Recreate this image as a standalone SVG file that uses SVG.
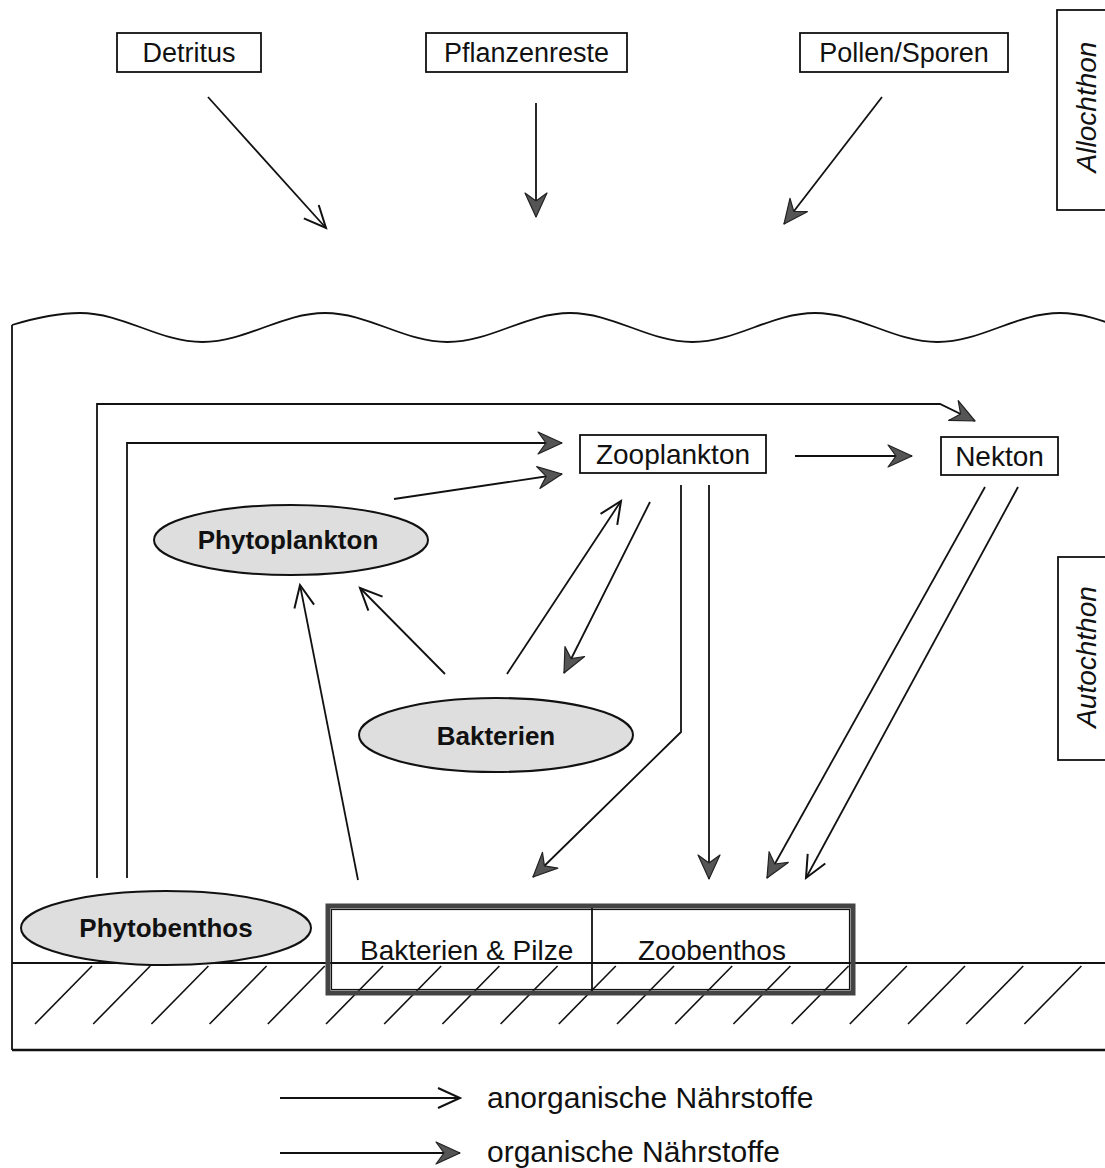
<svg xmlns="http://www.w3.org/2000/svg" width="1105" height="1168" viewBox="0 0 1105 1168">
<style>
.t{font-family:"Liberation Sans",Arial,sans-serif;fill:#111}
.box{fill:#fff;stroke:#111;stroke-width:1.8}
.ell{fill:#dedede;stroke:#111;stroke-width:2}
.ln{fill:none;stroke:#111;stroke-width:1.8}
.fr{fill:none;stroke:#111;stroke-width:1.8}
.inorg{marker-end:url(#open)}
.org{marker-end:url(#filled)}
</style>
<defs>
<marker id="open" viewBox="-26 -13 28 26" refX="0" refY="0" markerWidth="28" markerHeight="26" orient="auto" markerUnits="userSpaceOnUse" overflow="visible">
<path d="M-22,-10 L0,0 L-22,10" fill="none" stroke="#111" stroke-width="2"/>
</marker>
<marker id="filled" viewBox="-26 -13 28 26" refX="0" refY="0" markerWidth="28" markerHeight="26" orient="auto" markerUnits="userSpaceOnUse" overflow="visible">
<path d="M-24,-11 L0,0 L-24,11 L-16,0 Z" fill="#555" stroke="#222" stroke-width="1.2" stroke-linejoin="round"/>
</marker>
</defs>
<rect width="1105" height="1168" fill="#fff"/>

<g id="environment">
<path class="fr" d="M12,325 C35,318 57,313 80,313 C124,313 158.5,342 202.5,342 C246.5,342 281,313 325,313 C369,313 403.5,342 447.5,342 C491.5,342 526,313 570,313 C614,313 648.5,342 692.5,342 C736.5,342 771,313 815,313 C859,313 893.5,342 937.5,342 C981.5,342 1016,313 1060,313 C1104,313 1138.5,342 1182.5,342"/>
<path class="fr" d="M12,325 L12,1050"/>
<path d="M12,1050 L1105,1050" fill="none" stroke="#111" stroke-width="2.6"/>
<path class="fr" d="M12,963 L1105,963"/>
<g id="hatch" stroke="#111" stroke-width="1.6">
<line x1="35" y1="1024" x2="92" y2="966"/>
<line x1="93.2" y1="1024" x2="150.2" y2="966"/>
<line x1="151.4" y1="1024" x2="208.4" y2="966"/>
<line x1="209.6" y1="1024" x2="266.6" y2="966"/>
<line x1="267.8" y1="1024" x2="324.8" y2="966"/>
<line x1="326" y1="1024" x2="383" y2="966"/>
<line x1="384.2" y1="1024" x2="441.2" y2="966"/>
<line x1="442.4" y1="1024" x2="499.4" y2="966"/>
<line x1="500.6" y1="1024" x2="557.6" y2="966"/>
<line x1="558.8" y1="1024" x2="615.8" y2="966"/>
<line x1="617" y1="1024" x2="674" y2="966"/>
<line x1="675.2" y1="1024" x2="732.2" y2="966"/>
<line x1="733.4" y1="1024" x2="790.4" y2="966"/>
<line x1="791.6" y1="1024" x2="848.6" y2="966"/>
<line x1="849.8" y1="1024" x2="906.8" y2="966"/>
<line x1="908" y1="1024" x2="965" y2="966"/>
<line x1="966.2" y1="1024" x2="1023.2" y2="966"/>
<line x1="1024.4" y1="1024" x2="1081.4" y2="966"/>
</g>
</g>

<g id="allochthon">
<rect x="1057" y="10" width="60" height="200" class="box"/>
<text class="t" font-size="28" font-style="italic" text-anchor="middle" transform="translate(1096,107) rotate(-90)">Allochthon</text>
</g>
<g id="autochthon">
<rect x="1058" y="557" width="60" height="203" class="box"/>
<text class="t" font-size="28" font-style="italic" text-anchor="middle" transform="translate(1096,657) rotate(-90)">Autochthon</text>
</g>

<g id="detritus">
<rect x="117" y="33" width="144" height="39" class="box"/>
<text class="t" x="189" y="62" font-size="27" text-anchor="middle">Detritus</text>
</g>
<g id="pflanzenreste">
<rect x="426" y="33" width="201" height="39" class="box"/>
<text class="t" x="526.5" y="62" font-size="27" text-anchor="middle">Pflanzenreste</text>
</g>
<g id="pollen">
<rect x="800" y="33" width="208" height="39" class="box"/>
<text class="t" x="904" y="62" font-size="27" text-anchor="middle">Pollen/Sporen</text>
</g>

<g id="zooplankton">
<rect x="580" y="435" width="186" height="38" class="box"/>
<text class="t" x="673" y="464" font-size="28" text-anchor="middle">Zooplankton</text>
</g>
<g id="nekton">
<rect x="941" y="437" width="117" height="38" class="box"/>
<text class="t" x="999.5" y="466" font-size="28" text-anchor="middle">Nekton</text>
</g>
<g id="phytoplankton">
<ellipse cx="291" cy="540" rx="137" ry="35" class="ell"/>
<text class="t" x="288" y="549" font-size="26" font-weight="bold" text-anchor="middle">Phytoplankton</text>
</g>
<g id="bakterien">
<ellipse cx="496" cy="735" rx="137" ry="37" class="ell"/>
<text class="t" x="496" y="745" font-size="26" font-weight="bold" text-anchor="middle">Bakterien</text>
</g>
<g id="phytobenthos">
<ellipse cx="166" cy="928" rx="145" ry="37" class="ell"/>
<text class="t" x="166" y="937" font-size="26" font-weight="bold" text-anchor="middle">Phytobenthos</text>
</g>
<g id="benthos">
<rect x="328" y="906" width="525" height="87" fill="none" stroke="#444" stroke-width="5"/>
<rect x="331.5" y="909.5" width="518" height="80" fill="none" stroke="#111" stroke-width="1.2"/>
<line x1="592" y1="908" x2="592" y2="991" stroke="#111" stroke-width="1.8"/>
<text class="t" x="360" y="960" font-size="28">Bakterien &amp; Pilze</text>
<text class="t" x="638" y="960" font-size="28">Zoobenthos</text>
</g>

<g id="connectors">
<path class="ln inorg" d="M208,97 L326,228"/>
<path class="ln org" d="M536,103 L536,217"/>
<path class="ln org" d="M882,97 L784,224"/>
<path class="ln org" d="M97,878 L97,404 L940,404 L975,421"/>
<path class="ln org" d="M127,878 L127,443 L562,443"/>
<path class="ln org" d="M394,499 L562,474"/>
<path class="ln org" d="M795,456 L912,456"/>
<path class="ln inorg" d="M507,674 L621,501"/>
<path class="ln org" d="M650,502 L564,673"/>
<path class="ln inorg" d="M445,674 L360,588"/>
<path class="ln inorg" d="M358,880 L300,585"/>
<path class="ln org" d="M681,485 L681,732 L533,877"/>
<path class="ln org" d="M709,485 L709,879"/>
<path class="ln org" d="M985,487 L767,878"/>
<path class="ln inorg" d="M1018,487 L806,878"/>
</g>

<g id="legend">
<path class="ln inorg" d="M280,1098 L460,1098"/>
<text class="t" x="487" y="1108" font-size="30">anorganische Nährstoffe</text>
<path class="ln org" d="M280,1153 L460,1153"/>
<text class="t" x="487" y="1162" font-size="30">organische Nährstoffe</text>
</g>
</svg>
